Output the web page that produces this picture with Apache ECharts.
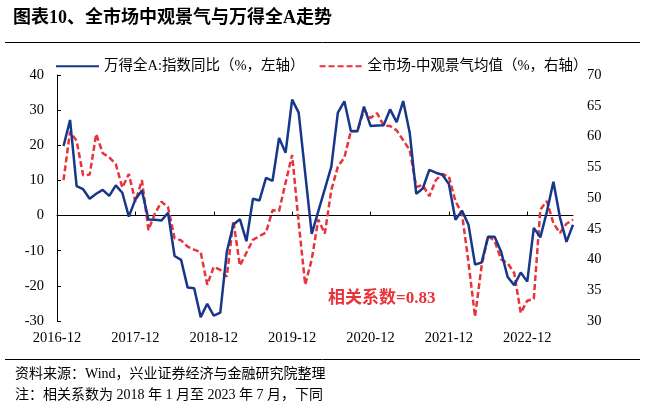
<!DOCTYPE html>
<html>
<head>
<meta charset="utf-8">
<script src="https://cdn.jsdelivr.net/npm/echarts@6/dist/echarts.min.js"></script>
<style>
html,body{margin:0;padding:0;background:#fff;}
#chart{width:645px;height:413px;}
</style>
</head>
<body>
<div id="chart"></div>
<script>
// Monthly categories 2016-12 .. 2023-07 (data begins 2017-01)
const startYear = 2016, startMonth = 12, monthCount = 80;
const categories = [];
for (let i = 0; i < monthCount; i++) {
  const m0 = (startMonth - 1) + i;
  const y = startYear + Math.floor(m0 / 12);
  const m = (m0 % 12) + 1;
  categories.push(y + '-' + (m < 10 ? '0' + m : '' + m));
}

// 万得全A 指数同比 (%), 2017-01 .. 2023-07, left axis
const windA = [
  19.8, 27.2, 8.4, 7.5, 4.8, 6.2, 7.3, 5.6, 8.6, 6.5, -0.3, 4.6,
  7.1, -1.1, -1.2, -1.4, 0.8, -11.5, -12.6, -20.5, -20.7, -28.9, -25.1, -28.5,
  -27.6, -10.3, -2.6, -1.0, -7.3, 4.8, 4.3, 10.7, 9.9, 22.1, 17.9, 33.0,
  29.3, 12.0, -5.2, 1.2, 7.5, 13.9, 29.3, 32.5, 24.0, 24.0, 31.0, 25.5,
  25.6, 25.7, 30.2, 26.6, 32.6, 23.6, 6.2, 7.7, 13.0, 12.2, 11.6, 9.0,
  -1.2, 1.4, -2.6, -13.9, -13.4, -6.0, -6.0, -10.3, -17.5, -19.8, -16.2, -18.8,
  -3.5, -6.2, 1.1, 9.6, -0.5, -7.5, -2.6
];

// 全市场-中观景气均值 (%), 2017-01 .. 2023-07, right axis
const meso = [
  52.9, 60.8, 59.3, 53.7, 53.8, 60.4, 57.3, 56.6, 55.5, 51.7, 53.9, 49.4,
  52.9, 44.8, 47.5, 49.4, 48.5, 43.5, 43.1, 42.1, 41.6, 41.2, 35.9, 38.8,
  38.3, 37.2, 46.3, 39.0, 41.1, 43.2, 43.8, 44.4, 48.0, 47.9, 52.5, 57.0,
  46.0, 35.9, 40.0, 46.5, 44.2, 51.3, 55.1, 56.6, 60.9, 60.9, 64.3, 63.0,
  63.8, 61.8, 61.7, 61.0, 59.4, 57.8, 51.8, 52.1, 50.3, 52.9, 53.9, 53.5,
  49.5, 47.5, 39.5, 30.7, 38.9, 43.8, 43.0, 40.0, 39.4, 37.8, 31.3, 33.3,
  33.6, 48.1, 49.5, 45.9, 44.3, 45.8, 46.5
];

const leftTicks = { min: -30, max: 40, interval: 10 };
const rightTicks = { min: 30, max: 70, interval: 5 };

const seriesNames = ['万得全A:指数同比（%，左轴）', '全市场-中观景气均值（%，右轴）'];
const titleText = '图表10、全市场中观景气与万得全A走势';
const corrText = '相关系数=0.83';
const sourceText = '资料来源：Wind，兴业证券经济与金融研究院整理';
const noteText = '注：相关系数为 2018 年 1 月至 2023 年 7 月，下同';

const serif = "'Liberation Serif','Noto Sans CJK SC',serif";
const BLUE = '#17378a', RED = '#e8333a';

const pad = ['-'];
const chart = echarts.init(document.getElementById('chart'), null, { renderer: 'canvas' });
chart.setOption({
  animation: false,
  backgroundColor: '#fff',
  grid: { left: 57, right: 72, top: 75, bottom: 92, containLabel: false },
  legend: {
    left: 50, top: 54,
    itemWidth: 43, itemHeight: 14, itemGap: 14,
    itemStyle: { color: 'rgba(0,0,0,0)', borderWidth: 0, opacity: 0 },
    textStyle: { fontFamily: serif, fontSize: 14.5, color: '#000' },
    data: seriesNames
  },
  xAxis: [
    {
      type: 'category', data: categories, boundaryGap: false, position: 'bottom',
      axisLine: { show: false }, axisTick: { show: false },
      axisLabel: { interval: 11, margin: 10, fontFamily: serif, fontSize: 14.5, color: '#000' },
      splitLine: { show: false }
    },
    {
      type: 'category', data: categories, boundaryGap: false, position: 'bottom',
      axisLine: { show: true, onZero: true, onZeroAxisIndex: 0, lineStyle: { color: '#000', width: 1 } },
      axisTick: { show: true, inside: true, length: 4, interval: 11, lineStyle: { color: '#000' } },
      axisLabel: { show: false },
      splitLine: { show: false }
    }
  ],
  yAxis: [
    {
      type: 'value', min: leftTicks.min, max: leftTicks.max, interval: leftTicks.interval, position: 'left',
      axisLine: { show: true, onZero: false, lineStyle: { color: '#000', width: 1 } },
      axisTick: { show: true, inside: true, length: 4, lineStyle: { color: '#000' } },
      axisLabel: { margin: 13, fontFamily: serif, fontSize: 14.5, color: '#000' },
      splitLine: { show: false }
    },
    {
      type: 'value', min: rightTicks.min, max: rightTicks.max, interval: rightTicks.interval, position: 'right',
      axisLine: { show: false, onZero: false }, axisTick: { show: false },
      axisLabel: { margin: 14, fontFamily: serif, fontSize: 14.5, color: '#000' },
      splitLine: { show: false }
    }
  ],
  series: [
    {
      name: seriesNames[0], type: 'line', xAxisIndex: 0, yAxisIndex: 0,
      data: pad.concat(windA), symbol: 'none', connectNulls: false,
      lineStyle: { color: BLUE, width: 2.5 }, itemStyle: { color: BLUE }, z: 3
    },
    {
      name: seriesNames[1], type: 'line', xAxisIndex: 0, yAxisIndex: 1,
      data: pad.concat(meso), symbol: 'none',
      lineStyle: { color: RED, width: 2.5, type: [6, 3] }, itemStyle: { color: RED }, z: 2
    }
  ],
  graphic: [
    { type: 'text', left: 13, top: 9, style: { text: titleText, font: "bold 18px 'Liberation Serif','Noto Sans CJK SC',serif", fill: '#000' } },
    { type: 'line', shape: { x1: 5, y1: 42.5, x2: 640, y2: 42.5 }, style: { stroke: '#000', lineWidth: 1 } },
    { type: 'text', left: 328, top: 290, style: { text: corrText, font: "bold 17px 'Liberation Serif','Noto Sans CJK SC',serif", fill: RED } },
    { type: 'line', shape: { x1: 5, y1: 359.5, x2: 640, y2: 359.5 }, style: { stroke: '#000', lineWidth: 1 } },
    { type: 'text', left: 15, top: 367, style: { text: sourceText, font: "14px 'Liberation Serif','Noto Sans CJK SC',serif", fill: '#000' } },
    { type: 'text', left: 15, top: 388, style: { text: noteText, font: "14px 'Liberation Serif','Noto Sans CJK SC',serif", fill: '#000' } }
  ]
});
</script>
</body>
</html>
